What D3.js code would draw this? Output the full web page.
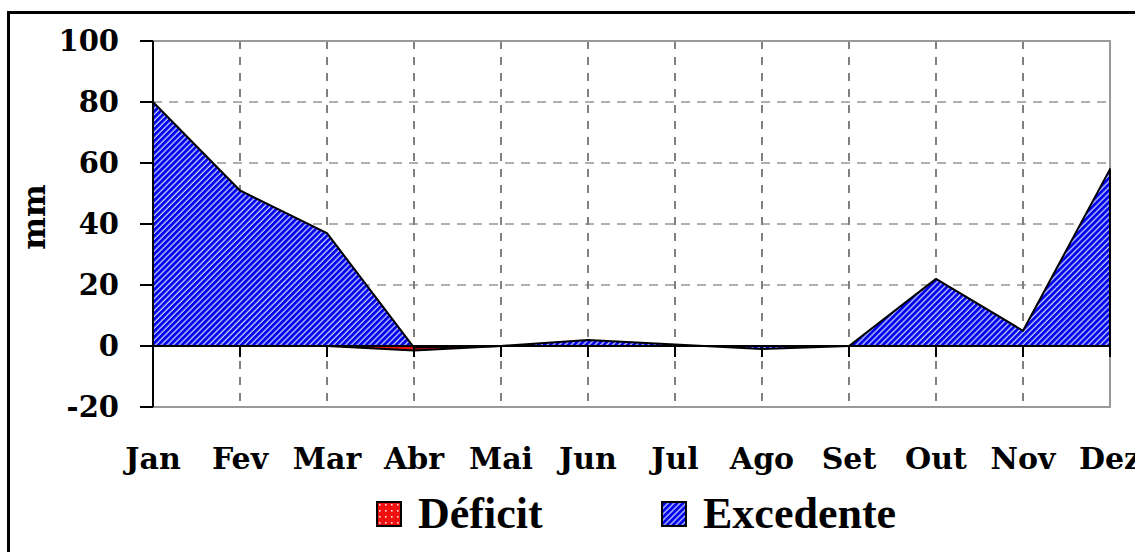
<!DOCTYPE html>
<html>
<head>
<meta charset="utf-8">
<script src="https://cdn.jsdelivr.net/npm/d3@7"></script>
<style>
  body { margin: 0; background: #fff; }
  svg { display: block; }
</style>
</head>
<body>
<script>
// balanco hidrico mensal
var months = ["Jan", "Fev", "Mar", "Abr", "Mai", "Jun", "Jul", "Ago", "Set", "Out", "Nov", "Dez"];
var excedente = [80, 51, 37, -0.5, 0, 2, 0.5, -1, 0, 22, 5, 58];
var deficit = [null, null, 0, -1.5, 0, null, null, null, null, null, null, null];
var yTicks = [-20, 0, 20, 40, 60, 80, 100];
var legendNames = ["Déficit", "Excedente"];

var W = 1135, H = 552;
var svg = d3.select("body").append("svg").attr("width", W).attr("height", H);

var x = d3.scalePoint().domain(months).range([153, 1110]);
var y = d3.scaleLinear().domain([-20, 100]).range([407, 41]);

// patterns
var defs = svg.append("defs");
var pb = defs.append("pattern").attr("id", "hatchBlue")
  .attr("patternUnits", "userSpaceOnUse").attr("width", 4.2).attr("height", 4.2)
  .attr("patternTransform", "rotate(45)");
pb.append("rect").attr("width", 4.2).attr("height", 4.2).attr("fill", "#0000ee");
pb.append("line").attr("x1", 1).attr("x2", 1).attr("y1", 0).attr("y2", 4.2)
  .attr("stroke", "#d8e0ff").attr("stroke-width", 1.2);

var pr = defs.append("pattern").attr("id", "dotRed")
  .attr("patternUnits", "userSpaceOnUse").attr("width", 6).attr("height", 6);
pr.append("rect").attr("width", 6).attr("height", 6).attr("fill", "#f01010");
pr.append("rect").attr("x", 2).attr("y", 2).attr("width", 1.6).attr("height", 1.6).attr("fill", "#ffe0e0");

// outer frame
svg.append("rect").attr("x", 8.5).attr("y", 12.5).attr("width", 1140).attr("height", 560)
  .attr("fill", "none").attr("stroke", "#000").attr("stroke-width", 3);

// grid
var g = svg.append("g");
g.selectAll(".hg").data([20, 40, 60, 80]).enter().append("line")
  .attr("x1", 153).attr("x2", 1110)
  .attr("y1", function (d) { return y(d); }).attr("y2", function (d) { return y(d); })
  .attr("stroke", "#b0b0b0").attr("stroke-width", 2).attr("stroke-dasharray", "9,7");
g.selectAll(".vg").data(months.slice(1, 11)).enter().append("line")
  .attr("x1", function (d) { return x(d); }).attr("x2", function (d) { return x(d); })
  .attr("y1", y(100)).attr("y2", y(-20))
  .attr("stroke", "#808080").attr("stroke-width", 2).attr("stroke-dasharray", "8,8");

// plot border (gray)
g.append("path")
  .attr("d", "M153," + y(100) + "H1110V" + y(-20) + "H153")
  .attr("fill", "none").attr("stroke", "#999").attr("stroke-width", 2);

// areas
var areaD = d3.area()
  .defined(function (d) { return d != null; })
  .x(function (d, i) { return x(months[i]); })
  .y0(y(0)).y1(function (d) { return y(d); });

svg.append("path").datum(deficit).attr("d", areaD)
  .attr("fill", "url(#dotRed)").attr("stroke", "#000").attr("stroke-width", 2);
svg.append("path").datum(excedente).attr("d", areaD)
  .attr("fill", "url(#hatchBlue)").attr("stroke", "#000").attr("stroke-width", 2)
  .attr("stroke-linejoin", "round");

// zero line and x ticks
svg.append("line").attr("x1", 153).attr("x2", 1110).attr("y1", y(0)).attr("y2", y(0))
  .attr("stroke", "#000").attr("stroke-width", 2);
svg.selectAll(".xt").data(months).enter().append("line")
  .attr("x1", function (d) { return x(d); }).attr("x2", function (d) { return x(d); })
  .attr("y1", y(0)).attr("y2", y(0) + 11)
  .attr("stroke", "#000").attr("stroke-width", 2);

// y axis
svg.append("line").attr("x1", 153).attr("x2", 153).attr("y1", y(100)).attr("y2", y(-20))
  .attr("stroke", "#000").attr("stroke-width", 2);
svg.selectAll(".yt").data(yTicks).enter().append("line")
  .attr("x1", 140).attr("x2", 153)
  .attr("y1", function (d) { return y(d); }).attr("y2", function (d) { return y(d); })
  .attr("stroke", "#000").attr("stroke-width", 2);

var tickFont = "'DejaVu Serif', serif";
svg.selectAll(".yl").data(yTicks).enter().append("text")
  .attr("x", 119).attr("y", function (d) { return y(d); })
  .attr("dy", "0.36em").attr("text-anchor", "end")
  .style("font-family", tickFont).style("font-weight", "bold").style("font-size", "29px")
  .text(function (d) { return d; });

svg.selectAll(".xl").data(months).enter().append("text")
  .attr("x", function (d) { return x(d); }).attr("y", 469)
  .attr("text-anchor", "middle")
  .style("font-family", tickFont).style("font-weight", "bold").style("font-size", "30px")
  .text(function (d) { return d; });

svg.append("text")
  .attr("transform", "translate(45,217) rotate(-90)")
  .attr("text-anchor", "middle")
  .style("font-family", tickFont).style("font-weight", "bold").style("font-size", "31px")
  .text("mm");

// legend
var legX = [377, 662];
var legFill = ["url(#dotRed)", "url(#hatchBlue)"];
var leg = svg.selectAll(".leg").data(legendNames).enter().append("g")
  .attr("transform", function (d, i) { return "translate(" + legX[i] + ",502)"; });
leg.append("rect").attr("width", 24).attr("height", 24)
  .attr("fill", function (d, i) { return legFill[i]; })
  .attr("stroke", "#000").attr("stroke-width", 2);
leg.append("text").attr("x", 41).attr("y", 26)
  .style("font-family", "'Liberation Serif', 'Times New Roman', serif")
  .style("font-weight", "bold").style("font-size", "44px")
  .text(function (d) { return d; });
</script>
</body>
</html>
